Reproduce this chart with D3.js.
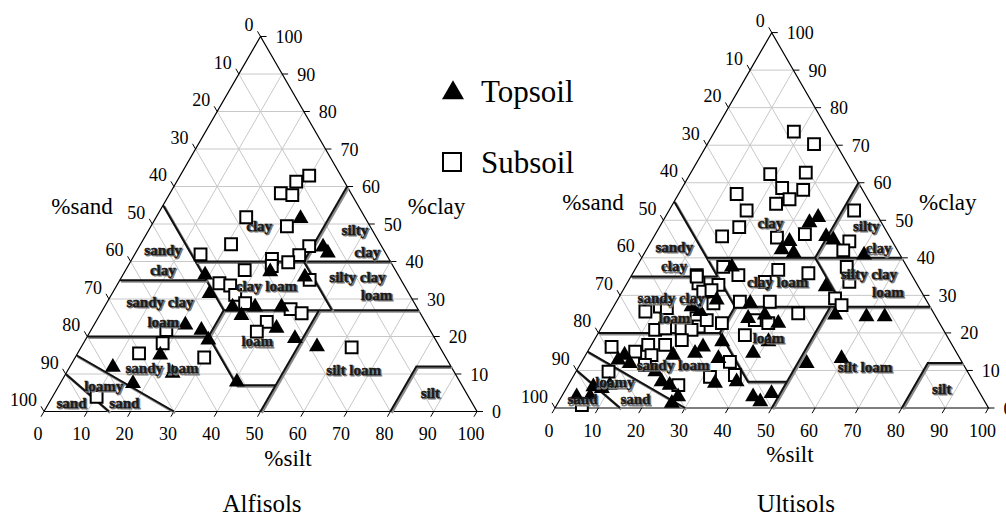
<!DOCTYPE html>
<html>
<head>
<meta charset="utf-8">
<script src="https://cdn.jsdelivr.net/npm/d3@7"></script>
<style>
  body { margin: 0; background: #fff; }
  svg { display: block; }
</style>
</head>
<body>
<svg id="chart" width="1006" height="518"></svg>
<script>
// all points are [silt %, clay %]; sand = 100 - silt - clay
const TICK_VALUES = [0, 10, 20, 30, 40, 50, 60, 70, 80, 90, 100];
const GRID_VALUES = [10, 20, 30, 40, 50, 60, 70, 80, 90];

const alfisolsTopsoil = [
    [33.5, 51.5], [42.5, 43.9], [44.4, 42.3], [33.6, 37.3], [42.3, 35.9], [19, 36.4],
    [22.5, 31.5], [29.6, 27.9], [32.8, 25.6], [34.8, 27.9], [42.6, 22.2], [40.9, 27.9],
    [48.2, 19.5], [21.1, 23.1], [25.5, 21.7], [28.4, 19.1], [19.3, 15.1], [24.6, 10.2],
    [10, 11.8], [16.8, 7.5], [40.6, 7.9], [54.4, 17.3]
];

const alfisolsSubsoil = [
    [29.8, 62.9], [27.6, 61.3], [25.6, 58.2], [28.5, 57.7], [31.4, 49.4], [20.8, 51.8],
    [20.9, 44.6], [15.2, 41.9], [39.2, 44.1], [38.1, 41.7], [36.5, 39.8], [32.3, 40.7],
    [33.2, 38.8], [27.5, 37.7], [43.8, 35.1], [23.4, 34.2], [26.2, 33.6], [28.6, 31.1],
    [32, 28.9], [39.5, 23.9], [38.5, 21.3], [43.3, 27.3], [46.4, 26.2], [62.5, 17.1],
    [17.4, 21.7], [18.3, 18.2], [14.2, 15.5], [29.8, 14.4], [10.2, 3.9]
];

const ultisolsTopsoil = [
    [34, 49.4], [35.3, 50.8], [31.9, 44.4], [31.2, 42.2], [34.4, 41.3], [39.7, 45.7],
    [41.8, 44.8], [50.9, 40.8], [46.3, 32.3], [52.2, 24.8], [59.7, 24.3], [63.9, 24.3],
    [59.5, 13.2], [22, 37.6], [31.1, 27.9], [32.6, 23.9], [36, 24.8], [40.2, 22.6],
    [40.4, 17.7], [29.7, 17.7], [26, 16.3], [38.4, 14.6], [52.1, 11.9], [31.1, 13.2],
    [33.6, 6.6], [38.4, 7], [44.2, 3], [46.5, 1.7], [48, 3.9], [18, 27],
    [20.6, 25.7], [20.2, 14.1], [25, 14.6], [8.2, 12.8], [9, 14.1], [11.3, 11.9],
    [18.3, 9.7], [21.1, 7], [23.4, 6.1], [26.9, 3], [8.2, 5.2], [9.6, 6.1],
    [6.6, 3], [3.5, 3], [6, 5.7], [26.3, 1.3], [22.9, 28.8]
];

const ultisolsSubsoil = [
    [18.3, 73.6], [24.6, 70.3], [18.5, 62.3], [26.5, 62.7], [23.1, 58.6], [28.2, 58.1],
    [26.3, 55.6], [23.8, 54.4], [13.4, 57], [17.9, 52.6], [18.4, 48.2], [15.7, 45.7],
    [28.5, 45.4], [34.5, 46.3], [42.7, 52.6], [45.7, 44.4], [45.5, 42], [48.5, 37.6],
    [51.1, 33.6], [50, 29.2], [52.4, 27.4], [20, 37.6], [24.6, 35.4], [15, 35.4],
    [16.5, 33.2], [21.3, 32.8], [33.1, 36.8], [40.5, 35.9], [31.6, 33.6], [28.5, 28.3],
    [35.4, 28.3], [34.4, 23.4], [37.9, 22.6], [34.1, 19.4], [43.5, 25.2], [22.6, 27.9],
    [34.2, 12.3], [31.6, 8.3], [37.1, 8.8], [8, 25.7], [10.7, 27], [20.7, 23.9],
    [22.3, 21.7], [12.7, 20.8], [14.8, 21.2], [18.6, 21.2], [21.1, 20.8], [13.1, 16.8],
    [17, 16.8], [20.2, 18.1], [4.9, 16.3], [11, 15], [15.2, 14.1], [15, 11.5],
    [7.5, 9.7], [25.4, 6.1], [5.8, 0.8], [15.2, 35], [12.5, 26.6], [18.7, 31],
    [20.4, 31.4], [23.3, 23.4], [27.2, 22.6]
];

// USDA texture class boundaries
const classBoundaries = [
    [[0, 55], [28, 27]],
    [[0, 35], [20, 35]],
    [[15, 40], [60, 40]],
    [[40, 40], [40, 60]],
    [[28, 27], [73, 27]],
    [[40, 40], [53, 27]],
    [[0, 20], [28, 20]],
    [[28, 27], [28, 20], [41, 7], [50, 7]],
    [[50, 27], [50, 0]],
    [[0, 15], [30, 0]],
    [[0, 10], [15, 0]],
    [[80, 0], [80, 12], [88, 12]]
];

const classLabels = [
    { text: "clay", at: [25, 49.4] },
    { text: "silty", at: [47.6, 48.4] },
    { text: "clay", at: [53.4, 42.5] },
    { text: "sandy", at: [6, 43] },
    { text: "clay", at: [8.6, 37.7] },
    { text: "sandy clay", at: [12.2, 29.2] },
    { text: "loam", at: [15.6, 23.9] },
    { text: "clay loam", at: [34.6, 33.5] },
    { text: "silty clay", at: [54.5, 35.8] },
    { text: "loam", at: [61.3, 31] },
    { text: "loam", at: [39.9, 18.7] },
    { text: "silt loam", at: [66, 11] },
    { text: "silt", at: [86.7, 5] },
    { text: "sandy loam", at: [21.5, 11.5] },
    { text: "loamy", at: [10.4, 6.8] },
    { text: "sand", at: [17.4, 2.3] },
    { text: "sand", at: [5.2, 2.3] }
];

const panels = [
    { title: "Alfisols", x0: 44, y0: 411.5, side: 433, titleX: 262, siltX: 288,
      topsoil: alfisolsTopsoil, subsoil: alfisolsSubsoil },
    { title: "Ultisols", x0: 555, y0: 408, side: 433.5, titleX: 796, siltX: 790,
      topsoil: ultisolsTopsoil, subsoil: ultisolsSubsoil }
];

const FONT = "'Liberation Serif', 'Times New Roman', serif";
const svg = d3.select("#chart");

const triangleSymbol = d3.symbol().type(d3.symbolTriangle).size(110);
const squareSymbol = d3.symbol().type(d3.symbolSquare).size(140);

function drawPanel(p) {
    const h = p.side * Math.sqrt(3) / 2;
    const sx = d3.scaleLinear().domain([0, 100]).range([p.x0, p.x0 + p.side]);
    const sy = d3.scaleLinear().domain([0, 100]).range([p.y0, p.y0 - h]);
    const px = (silt, clay) => sx(silt + clay / 2);
    const py = (clay) => sy(clay);
    const line = d3.line().x(d => px(d[0], d[1])).y(d => py(d[1]));

    const g = svg.append("g");

    // light grid
    const grid = g.append("g").attr("stroke", "#c8c8c8").attr("stroke-width", 1).attr("fill", "none");
    GRID_VALUES.forEach(v => {
        grid.append("path").attr("d", line([[0, v], [100 - v, v]]));
        grid.append("path").attr("d", line([[v, 0], [v, 100 - v]]));
        grid.append("path").attr("d", line([[100 - v, 0], [0, 100 - v]]));
    });

    // outline
    g.append("path")
        .attr("d", line([[0, 0], [100, 0], [0, 100], [0, 0]]))
        .attr("fill", "none").attr("stroke", "#000").attr("stroke-width", 1.2);

    // ticks and tick labels
    const ticks = g.append("g").attr("stroke", "#000").attr("stroke-width", 1);
    const tl = g.append("g").attr("font-family", FONT).attr("font-size", 18).attr("fill", "#000");
    TICK_VALUES.forEach(v => {
        // %silt along the bottom
        const bx = px(v, 0), by = py(0);
        ticks.append("line").attr("x1", bx).attr("y1", by).attr("x2", bx - 3).attr("y2", by + 5.2);
        tl.append("text").attr("x", bx - 6).attr("y", by + 28.5)
            .attr("text-anchor", "middle").text(v);
        // %clay along the right edge
        const rx = px(100 - v, v), ry = py(v);
        ticks.append("line").attr("x1", rx).attr("y1", ry).attr("x2", rx + 6).attr("y2", ry);
        tl.append("text").attr("x", rx + 15).attr("y", ry + 6.5)
            .attr("text-anchor", "start").text(v);
        // %sand along the left edge
        const lx = px(0, 100 - v), ly = py(100 - v);
        ticks.append("line").attr("x1", lx).attr("y1", ly).attr("x2", lx - 3).attr("y2", ly - 5.2);
        tl.append("text").attr("x", lx - 7).attr("y", ly - 5.5)
            .attr("text-anchor", "end").text(v);
    });

    // texture class boundaries: grey shadow under a black line
    const bnd = g.append("g").attr("fill", "none").attr("stroke-linejoin", "miter");
    classBoundaries.forEach(seg => {
        bnd.append("path").attr("d", line(seg))
            .attr("transform", "translate(1.3,1.3)")
            .attr("stroke", "#8c8c8c").attr("stroke-width", 2.6);
        bnd.append("path").attr("d", line(seg))
            .attr("stroke", "#111").attr("stroke-width", 2);
    });

    // data markers
    g.append("g").selectAll("path.sub")
        .data(p.subsoil).join("path")
        .attr("class", "sub")
        .attr("d", squareSymbol)
        .attr("transform", d => `translate(${px(d[0], d[1])},${py(d[1])})`)
        .attr("fill", "#fff").attr("stroke", "#000").attr("stroke-width", 2);

    g.append("g").selectAll("path.top")
        .data(p.topsoil).join("path")
        .attr("class", "top")
        .attr("d", triangleSymbol)
        .attr("transform", d => `translate(${px(d[0], d[1])},${py(d[1])})`)
        .attr("fill", "#000");

    // class labels (embossed look)
    const lab = g.append("g").attr("font-family", FONT).attr("font-size", 15)
        .attr("font-weight", "bold").attr("text-anchor", "middle");
    classLabels.forEach(l => {
        const x = px(l.at[0], l.at[1]), y = py(l.at[1]) + 5;
        lab.append("text").attr("x", x + 1.2).attr("y", y + 1.2)
            .attr("fill", "#7a7a7a").attr("stroke", "#7a7a7a").attr("stroke-width", 0.8).text(l.text);
        lab.append("text").attr("x", x).attr("y", y)
            .attr("fill", "#1a1a1a").attr("stroke", "#1a1a1a").attr("stroke-width", 0.4).text(l.text);
    });

    // axis names and title
    const an = g.append("g").attr("font-family", FONT).attr("font-size", 23).attr("fill", "#000");
    an.append("text").attr("x", p.x0 + 38).attr("y", p.y0 - 198)
        .attr("text-anchor", "middle").text("%sand");
    an.append("text").attr("x", px(0, 100) + 176).attr("y", py(100) + 177)
        .attr("text-anchor", "middle").text("%clay");
    an.append("text").attr("x", p.siltX).attr("y", p.y0 + 54)
        .attr("text-anchor", "middle").text("%silt");
    g.append("text").attr("x", p.titleX).attr("y", 512)
        .attr("font-family", FONT).attr("font-size", 25)
        .attr("text-anchor", "middle").text(p.title);
}

panels.forEach(drawPanel);

// legend
const legend = svg.append("g").attr("font-family", FONT).attr("font-size", 31);
legend.append("path").attr("d", d3.symbol().type(d3.symbolTriangle).size(210)())
    .attr("transform", "translate(453,93)").attr("fill", "#000");
legend.append("text").attr("x", 481).attr("y", 101.5).text("Topsoil");
legend.append("path").attr("d", d3.symbol().type(d3.symbolSquare).size(324)())
    .attr("transform", "translate(452,162)").attr("fill", "#fff")
    .attr("stroke", "#000").attr("stroke-width", 2);
legend.append("text").attr("x", 481).attr("y", 173).text("Subsoil");
</script>
</body>
</html>
